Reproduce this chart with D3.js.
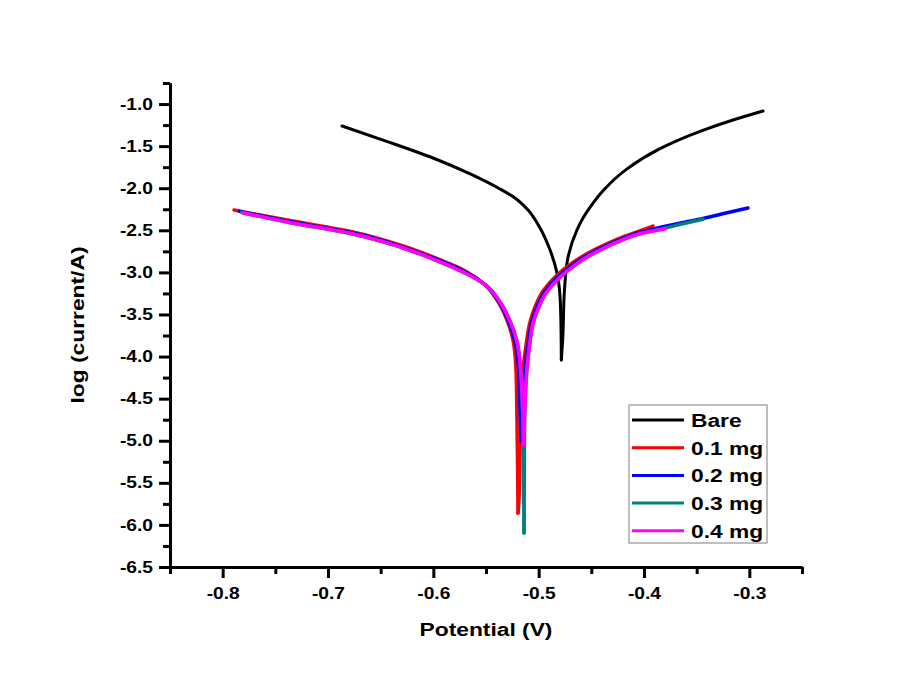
<!DOCTYPE html>
<html>
<head>
<meta charset="utf-8">
<script src="https://cdn.jsdelivr.net/npm/d3@7"></script>
<style>
  body { margin: 0; background: #fff; }
  text { font-family: "Liberation Sans", Arial, sans-serif; font-weight: bold; fill: #000; }
</style>
</head>
<body>
<div id="chart"></div>
<script>
var svgWidth = 916;
var svgHeight = 673;

var margin = { top: 83, right: 114, bottom: 106, left: 170 };
var width = svgWidth - margin.left - margin.right;
var height = svgHeight - margin.top - margin.bottom;

// data: [potential (V), log current]
// each curve goes down its cathodic branch to the spike, then back up the anodic branch
var seriesNames = ["Bare", "0.1 mg", "0.2 mg", "0.3 mg", "0.4 mg"];
var seriesColors = ["#000000", "#ff0000", "#0000ff", "#008080", "#ff00ff"];

var bare = [
  [-0.6867, -1.261], [-0.6450, -1.440], [-0.6003, -1.641], [-0.5650, -1.830], [-0.5367, -2.009],
  [-0.5225, -2.116], [-0.5101, -2.259], [-0.4987, -2.473], [-0.4892, -2.734], [-0.4826, -3.007],
  [-0.4797, -3.292], [-0.4788, -3.649], [-0.4785, -4.041],
  [-0.4772, -3.800], [-0.4755, -3.209], [-0.4721, -2.817], [-0.4636, -2.496], [-0.4579, -2.354],
  [-0.4513, -2.228], [-0.4389, -2.030], [-0.4161, -1.770], [-0.3848, -1.530],
  [-0.3468, -1.325], [-0.3155, -1.190], [-0.2870, -1.083]
];

var mg01 = [
  [-0.7892, -2.259], [-0.7389, -2.378], [-0.6763, -2.520], [-0.6316, -2.675], [-0.6003, -2.817],
  [-0.5680, -2.995], [-0.5528, -3.126], [-0.5396, -3.328], [-0.5301, -3.566], [-0.5244, -3.803],
  [-0.5215, -4.160], [-0.5206, -4.754], [-0.5200, -5.348], [-0.5196, -5.859],
  [-0.5187, -5.700], [-0.5177, -5.110], [-0.5168, -4.516], [-0.5149, -4.160], [-0.5120, -3.863],
  [-0.5082, -3.590], [-0.5035, -3.411], [-0.4959, -3.221], [-0.4835, -3.043], [-0.4683, -2.889],
  [-0.4531, -2.770], [-0.4380, -2.675], [-0.4228, -2.592], [-0.4066, -2.520], [-0.3914, -2.449]
];

var mg02 = [
  [-0.7840, -2.275], [-0.7389, -2.390], [-0.6763, -2.532], [-0.6316, -2.687], [-0.6003, -2.829],
  [-0.5680, -3.007], [-0.5515, -3.138], [-0.5382, -3.340], [-0.5287, -3.578], [-0.5225, -3.815],
  [-0.5190, -4.172], [-0.5177, -4.650], [-0.5168, -5.000],
  [-0.5160, -4.700], [-0.5148, -4.516], [-0.5130, -4.160], [-0.5102, -3.863],
  [-0.5065, -3.590], [-0.5020, -3.420], [-0.4945, -3.233], [-0.4820, -3.055], [-0.4670, -2.901],
  [-0.4520, -2.782], [-0.4370, -2.687], [-0.4218, -2.604], [-0.4060, -2.532], [-0.3860, -2.468],
  [-0.3650, -2.412], [-0.3440, -2.360], [-0.3220, -2.295], [-0.3013, -2.235]
];

var mg03 = [
  [-0.7820, -2.287], [-0.7389, -2.401], [-0.6763, -2.544], [-0.6316, -2.698], [-0.6003, -2.841],
  [-0.5680, -3.019], [-0.5505, -3.150], [-0.5367, -3.352], [-0.5268, -3.590], [-0.5205, -3.827],
  [-0.5170, -4.184], [-0.5152, -4.700], [-0.5145, -5.300], [-0.5140, -5.800], [-0.5139, -6.096],
  [-0.5137, -5.600], [-0.5135, -5.000], [-0.5128, -4.516], [-0.5112, -4.160], [-0.5086, -3.863],
  [-0.5050, -3.590], [-0.5005, -3.430], [-0.4930, -3.245], [-0.4805, -3.067], [-0.4655, -2.913],
  [-0.4508, -2.794], [-0.4360, -2.699], [-0.4209, -2.616], [-0.4050, -2.544], [-0.3801, -2.474],
  [-0.3620, -2.420], [-0.3440, -2.368]
];

var mg04 = [
  [-0.7807, -2.294], [-0.7389, -2.401], [-0.6763, -2.544], [-0.6316, -2.698], [-0.6003, -2.841],
  [-0.5680, -3.019], [-0.5505, -3.150], [-0.5367, -3.352], [-0.5268, -3.590], [-0.5205, -3.827],
  [-0.5170, -4.184], [-0.5152, -4.635], [-0.5142, -5.051],
  [-0.5136, -4.800], [-0.5128, -4.516], [-0.5112, -4.160], [-0.5086, -3.863],
  [-0.5050, -3.590], [-0.5005, -3.430], [-0.4930, -3.245], [-0.4805, -3.067], [-0.4655, -2.913],
  [-0.4508, -2.794], [-0.4360, -2.699], [-0.4209, -2.616], [-0.4050, -2.544], [-0.3801, -2.485]
];

var xMajorTicks = [-0.8, -0.7, -0.6, -0.5, -0.4, -0.3];
var xMinorTicks = [-0.85, -0.75, -0.65, -0.55, -0.45, -0.35, -0.25];
var yMajorTicks = [-1.0, -1.5, -2.0, -2.5, -3.0, -3.5, -4.0, -4.5, -5.0, -5.5, -6.0, -6.5];
var yMinorTicks = [-0.75, -1.25, -1.75, -2.25, -2.75, -3.25, -3.75, -4.25, -4.75, -5.25, -5.75, -6.25];

var allSeries = [bare, mg01, mg02, mg03, mg04];

var svg = d3.select("#chart")
  .append("svg")
  .attr("width", svgWidth)
  .attr("height", svgHeight);

var chartGroup = svg.append("g")
  .attr("transform", `translate(${margin.left}, ${margin.top})`);

// scales
var xScale = d3.scaleLinear().domain([-0.85, -0.25]).range([0, width]);
var yScale = d3.scaleLinear().domain([-6.5, -0.75]).range([height, 0]);

var stretch = 1.2; // the source font is drawn a bit wide
var fmt = d => d.toFixed(1);

// minor ticks
chartGroup.append("g")
  .attr("transform", `translate(0, ${height})`)
  .call(d3.axisBottom(xScale).tickValues(xMinorTicks).tickSize(7).tickSizeOuter(0).tickFormat(""));
chartGroup.append("g")
  .call(d3.axisLeft(yScale).tickValues(yMinorTicks).tickSize(7).tickSizeOuter(0).tickFormat(""));

// major ticks + labels
var xAxis = chartGroup.append("g")
  .attr("transform", `translate(0, ${height})`)
  .call(d3.axisBottom(xScale).tickValues(xMajorTicks).tickSize(11).tickSizeOuter(0).tickPadding(10).tickFormat(fmt));
var yAxis = chartGroup.append("g")
  .call(d3.axisLeft(yScale).tickValues(yMajorTicks).tickSize(11).tickSizeOuter(0).tickFormat(fmt));

chartGroup.selectAll(".domain").attr("stroke-width", 3).attr("stroke", "#000");
chartGroup.selectAll(".tick line").attr("stroke-width", 3).attr("stroke", "#000");

xAxis.selectAll("text")
  .attr("font-size", 16)
  .attr("font-family", "Liberation Sans, Arial, sans-serif")
  .attr("font-weight", "bold")
  .attr("transform", `scale(${stretch},1)`);
yAxis.selectAll("text")
  .attr("font-size", 16)
  .attr("font-family", "Liberation Sans, Arial, sans-serif")
  .attr("font-weight", "bold")
  .attr("x", -17 / stretch)
  .attr("transform", `scale(${stretch},1)`);

// curves: split at the spike so each branch can be drawn monotone in y
var branch = d3.line()
  .x(d => xScale(d[0]))
  .y(d => yScale(d[1]))
  .curve(d3.curveMonotoneY);

allSeries.forEach(function(s, i) {
  var low = d3.minIndex(s, d => d[1]);
  var left = s.slice(0, low + 1);
  var right = s.slice(low).reverse();
  var g = chartGroup.append("g")
    .attr("fill", "none")
    .attr("stroke", seriesColors[i])
    .attr("stroke-width", i === 0 ? 3 : 3.5)
    .attr("stroke-linejoin", "round")
    .attr("stroke-linecap", "round");
  g.append("path").attr("d", branch(left));
  g.append("path").attr("d", branch(right));
});

// axis titles
svg.append("g")
  .attr("transform", `translate(${margin.left + width / 2}, 636) scale(${stretch},1)`)
  .append("text")
  .attr("text-anchor", "middle")
  .attr("font-size", 19)
  .text("Potential (V)");

svg.append("g")
  .attr("transform", `translate(84, ${margin.top + height / 2}) rotate(-90) scale(${stretch},1)`)
  .append("text")
  .attr("text-anchor", "middle")
  .attr("font-size", 19)
  .text("log (current/A)");

// legend
var legend = svg.append("g").attr("transform", "translate(629, 405)");
legend.append("rect")
  .attr("width", 138)
  .attr("height", 138)
  .attr("fill", "#fff")
  .attr("stroke", "#7f7f7f")
  .attr("stroke-width", 1);

seriesNames.forEach(function(name, i) {
  var row = legend.append("g").attr("transform", `translate(0, ${15 + i * 27.7})`);
  row.append("line")
    .attr("x1", 3).attr("x2", 55)
    .attr("stroke", seriesColors[i])
    .attr("stroke-width", 3);
  row.append("g")
    .attr("transform", `translate(62, 7) scale(${stretch},1)`)
    .append("text")
    .attr("font-size", 19)
    .text(name);
});
</script>
</body>
</html>
